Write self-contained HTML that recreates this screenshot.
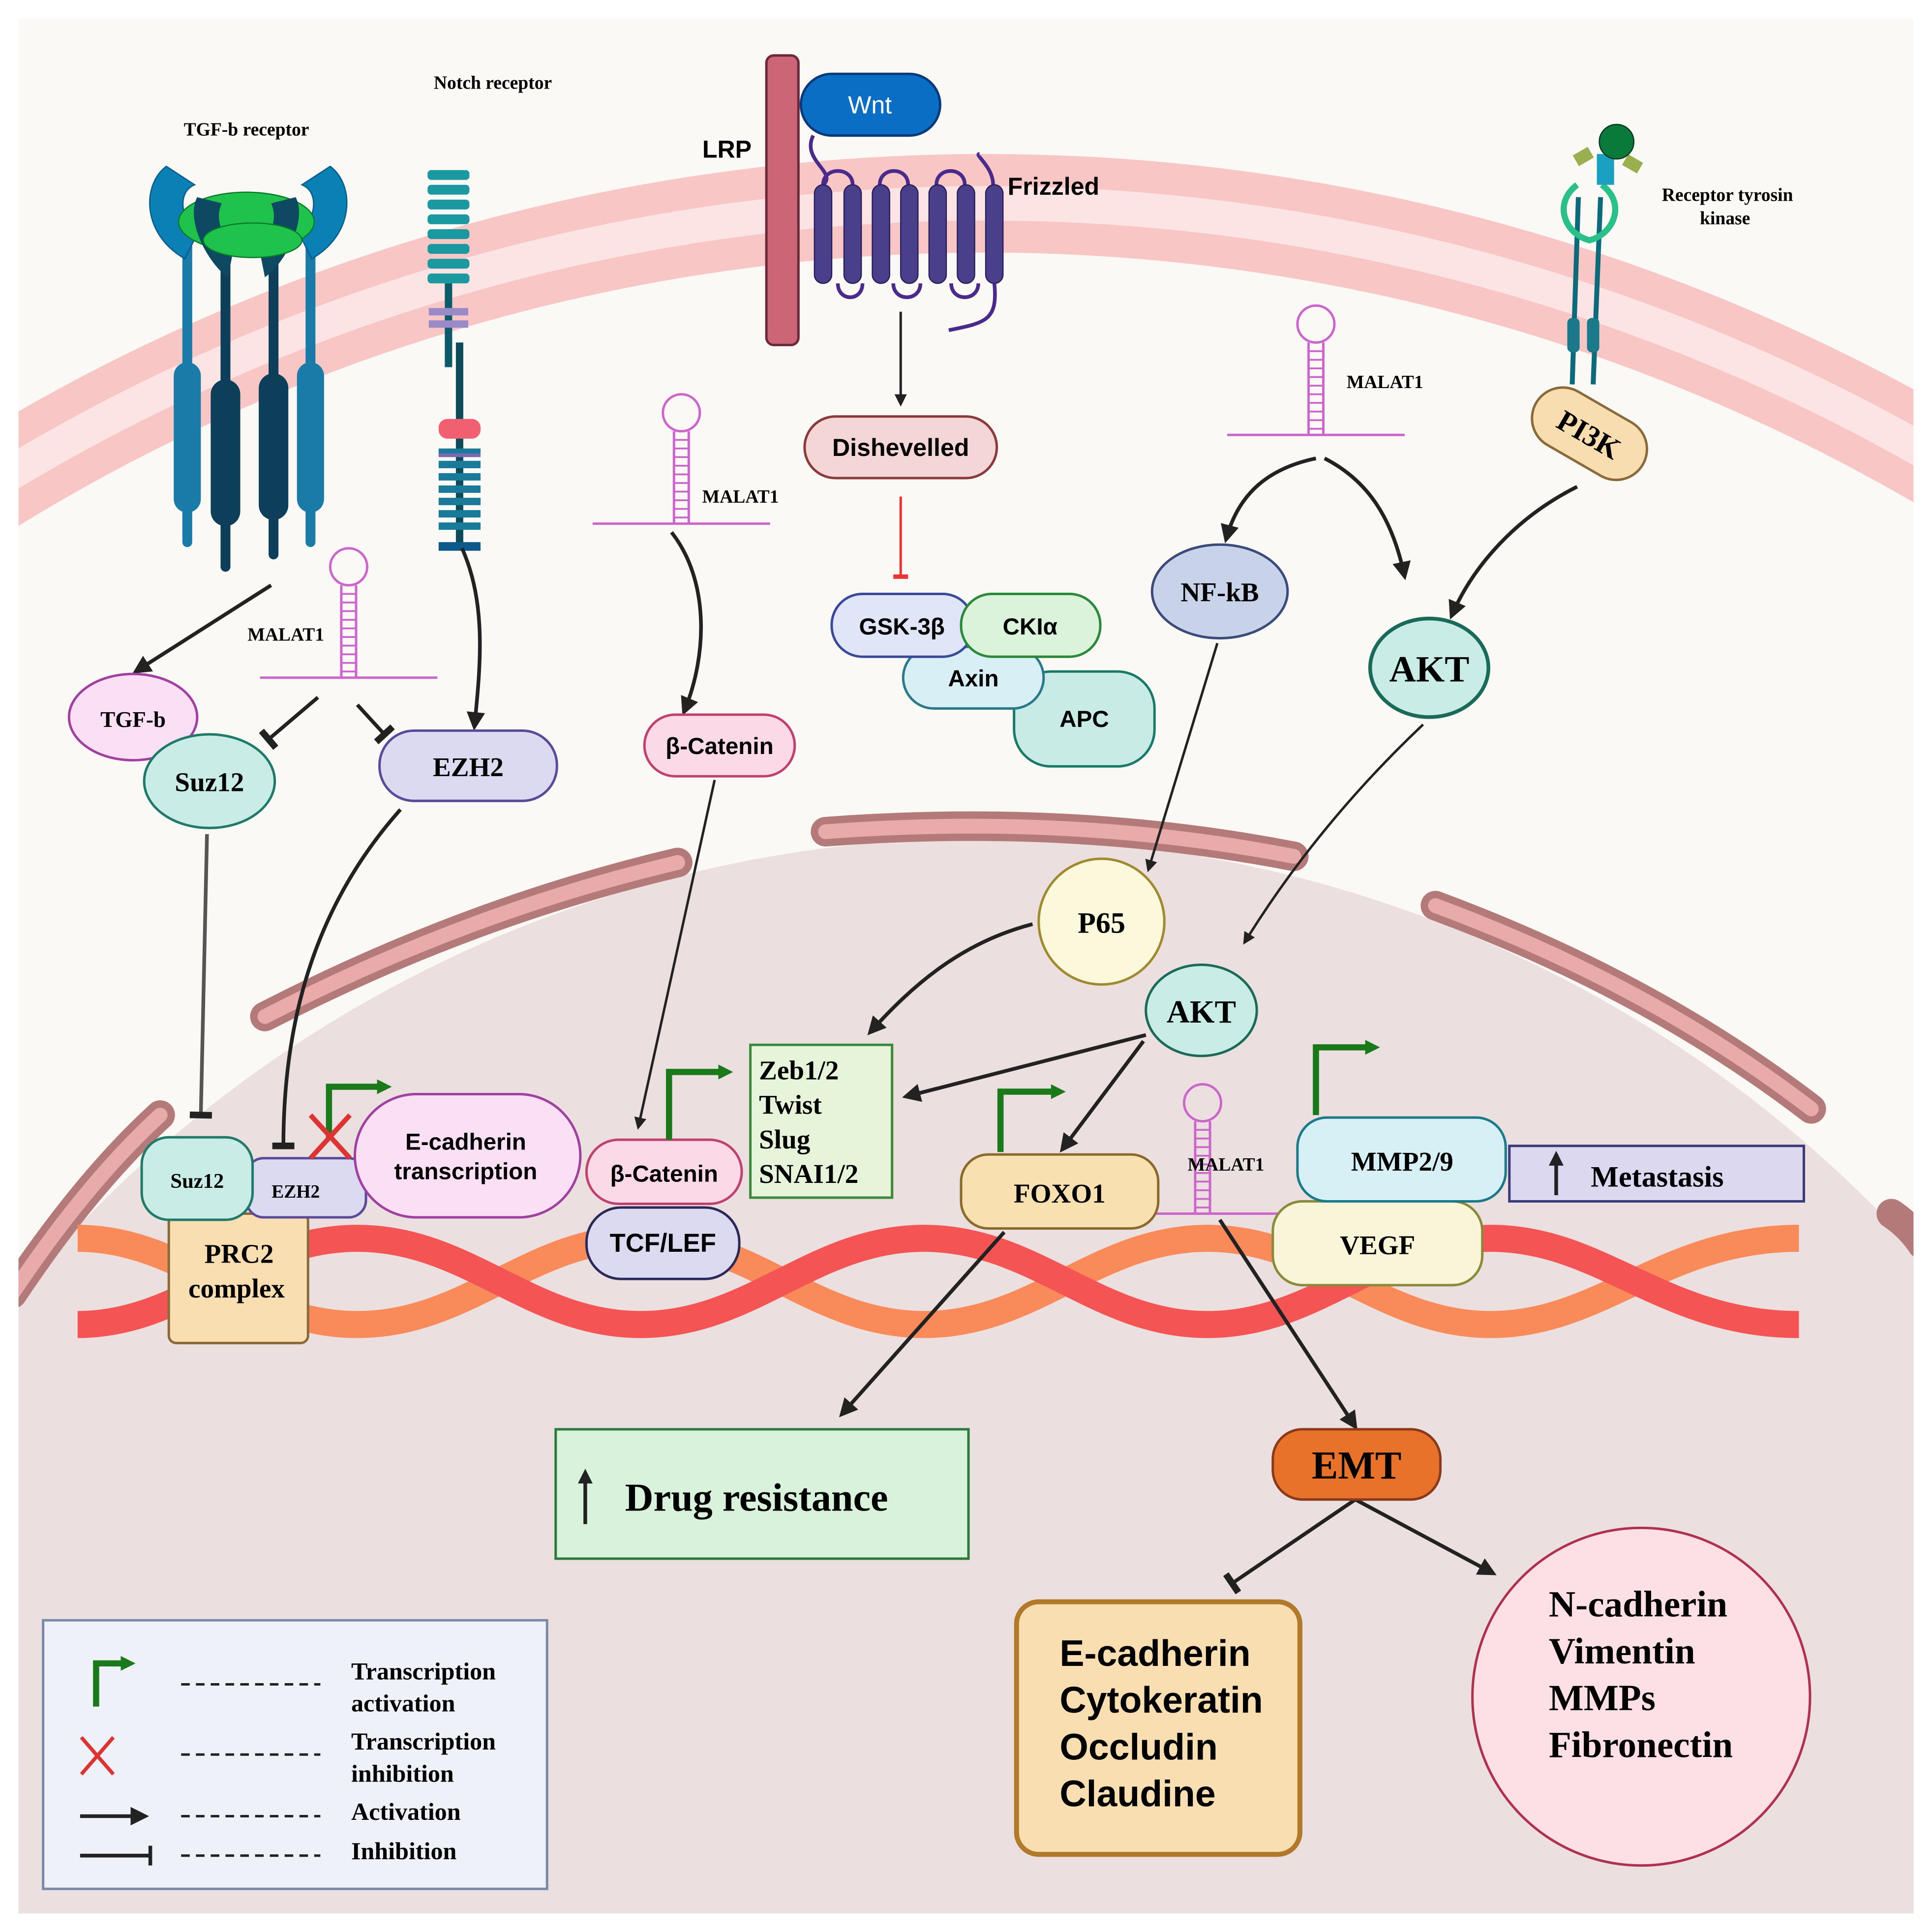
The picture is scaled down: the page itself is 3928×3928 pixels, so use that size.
<!DOCTYPE html>
<html><head><meta charset="utf-8"><style>
html,body{margin:0;padding:0;background:#fff;width:3928px;height:3928px;overflow:hidden}
svg{display:block}
.s{font-family:"Liberation Serif",serif;font-weight:bold}
.a{font-family:"Liberation Sans",sans-serif;font-weight:bold}
</style></head><body>
<svg width="3928" height="3928" viewBox="0 0 1568 1568" xmlns="http://www.w3.org/2000/svg">
<defs>
<marker id="ar" viewBox="0 0 10 10" refX="8" refY="5" markerWidth="5" markerHeight="5" orient="auto"><path d="M0,0 L10,5 L0,10 z" fill="#222"/></marker>
<marker id="tb" viewBox="0 0 10 10" refX="5" refY="5" markerWidth="6" markerHeight="6" orient="auto"><path d="M5,0 L5,10" stroke="#222" stroke-width="3"/></marker>
<marker id="tr" viewBox="0 0 10 10" refX="5" refY="5" markerWidth="6" markerHeight="6" orient="auto"><path d="M5,0 L5,10" stroke="#e33" stroke-width="3"/></marker>
<clipPath id="fr"><rect x="15" y="15" width="1538" height="1538"/></clipPath>
<g id="hp">
<line x1="-72" y1="0" x2="72" y2="0" stroke="#c6c" stroke-width="2"/>
<line x1="-6" y1="0" x2="-6" y2="-75" stroke="#c6c" stroke-width="2"/>
<line x1="6" y1="0" x2="6" y2="-75" stroke="#c6c" stroke-width="2"/>
<path d="M-6,-5 H6 M-6,-12 H6 M-6,-19 H6 M-6,-26 H6 M-6,-33 H6 M-6,-40 H6 M-6,-47 H6 M-6,-54 H6 M-6,-61 H6 M-6,-68 H6" stroke="#c6c" stroke-width="1.5"/>
<circle cx="0" cy="-90" r="15" fill="none" stroke="#c6c" stroke-width="2"/>
</g>
</defs>
<rect width="1568" height="1568" fill="#fff"/>
<g clip-path="url(#fr)">
<rect x="15" y="15" width="1538" height="1538" fill="#fbf9f5"/>
<circle cx="800" cy="1705" r="1540" fill="none" stroke="#f9c6c6" stroke-width="80"/>
<circle cx="800" cy="1705" r="1540" fill="none" stroke="#fde4e4" stroke-width="28"/>
<circle cx="800" cy="1698" r="1018" fill="#ecdfdf"/>
<g fill="none" stroke-linecap="round">
<path d="M215,825 Q380,740 550,700" stroke="#b47a7a" stroke-width="24"/>
<path d="M215,825 Q380,740 550,700" stroke="#e9aaaa" stroke-width="12"/>
<path d="M670,675 Q870,660 1050,695" stroke="#b47a7a" stroke-width="24"/>
<path d="M670,675 Q870,660 1050,695" stroke="#e9aaaa" stroke-width="12"/>
<path d="M1165,735 Q1340,800 1470,900" stroke="#b47a7a" stroke-width="24"/>
<path d="M1165,735 Q1340,800 1470,900" stroke="#e9aaaa" stroke-width="12"/>
<path d="M10,1050 Q70,960 130,905" stroke="#b47a7a" stroke-width="24"/>
<path d="M10,1050 Q70,960 130,905" stroke="#e9aaaa" stroke-width="12"/>
<path d="M1535,985 Q1550,995 1560,1010" stroke="#b47a7a" stroke-width="24"/>
</g>
<path d="M63,1005 C150,1005 200,1075 290,1075 S430,1005 520,1005 S660,1075 750,1075 S890,1005 980,1005 S1120,1075 1210,1075 S1350,1005 1460,1005" fill="none" stroke="#f98b5a" stroke-width="22"/>
<path d="M63,1075 C150,1075 200,1005 290,1005 S430,1075 520,1075 S660,1005 750,1005 S890,1075 980,1075 S1120,1005 1210,1005 S1350,1075 1460,1075" fill="none" stroke="#f55454" stroke-width="22"/>
</g>

<text x="200" y="110" class="s" font-size="15" text-anchor="middle">TGF-b receptor</text>
<g stroke-linecap="round">
<line x1="152" y1="190" x2="152" y2="440" stroke="#1a7aa8" stroke-width="8"/>
<line x1="183" y1="190" x2="183" y2="460" stroke="#0d3f5a" stroke-width="8"/>
<line x1="222" y1="190" x2="222" y2="450" stroke="#0d3f5a" stroke-width="8"/>
<line x1="252" y1="190" x2="252" y2="440" stroke="#1a7aa8" stroke-width="8"/>
<line x1="152" y1="305" x2="152" y2="405" stroke="#1a7aa8" stroke-width="22"/>
<line x1="183" y1="320" x2="183" y2="415" stroke="#0d3f5a" stroke-width="24"/>
<line x1="222" y1="315" x2="222" y2="410" stroke="#0d3f5a" stroke-width="24"/>
<line x1="252" y1="305" x2="252" y2="405" stroke="#1a7aa8" stroke-width="22"/>
</g>
<path d="M135,135 C115,150 115,190 150,210 L160,190 C145,175 145,155 158,150 Z" fill="#0a80b5" stroke="#0a5a8a"/>
<path d="M268,135 C288,150 288,190 253,210 L243,190 C258,175 258,155 245,150 Z" fill="#0a80b5" stroke="#0a5a8a"/>
<ellipse cx="200" cy="180" rx="55" ry="24" fill="#1fc24a" stroke="#0a7a2a"/>
<path d="M160,160 C150,180 170,215 185,225 L190,200 C178,190 175,175 180,165 Z" fill="#0d4a62"/>
<path d="M240,160 C250,180 230,215 215,225 L210,200 C222,190 225,175 220,165 Z" fill="#0d4a62"/>
<ellipse cx="205" cy="195" rx="40" ry="14" fill="#1fc24a" stroke="#0a7a2a"/>

<text x="400" y="72" class="s" font-size="15" text-anchor="middle">Notch receptor</text>
<g fill="#1a9aa0">
<rect x="347" y="138" width="34" height="8" rx="3"/><rect x="347" y="150" width="34" height="8" rx="3"/><rect x="347" y="162" width="34" height="8" rx="3"/><rect x="347" y="174" width="34" height="8" rx="3"/><rect x="347" y="186" width="34" height="8" rx="3"/><rect x="347" y="198" width="34" height="8" rx="3"/><rect x="347" y="210" width="34" height="8" rx="3"/><rect x="347" y="222" width="34" height="8" rx="3"/>
</g>
<line x1="364" y1="230" x2="364" y2="298" stroke="#0d5a6a" stroke-width="6"/>
<rect x="348" y="250" width="32" height="6" fill="#9a8ac8"/><rect x="348" y="260" width="32" height="6" fill="#9a8ac8"/>
<line x1="373" y1="278" x2="373" y2="445" stroke="#0d4a5a" stroke-width="6"/>
<rect x="356" y="340" width="34" height="16" rx="7" fill="#f06070"/>
<g fill="#1a7a9a"><rect x="356" y="364" width="34" height="6"/><rect x="356" y="374" width="34" height="6"/><rect x="356" y="384" width="34" height="6"/><rect x="356" y="394" width="34" height="6"/><rect x="356" y="404" width="34" height="6"/><rect x="356" y="414" width="34" height="6"/><rect x="356" y="424" width="34" height="6"/><rect x="356" y="440" width="34" height="7" fill="#0d5a8a"/></g>
<rect x="356" y="368" width="34" height="3" fill="#7a6ab0"/>

<rect x="622" y="45" width="26" height="235" rx="6" fill="#cc6677" stroke="#6a2a3a" stroke-width="2"/>
<text x="590" y="128" class="a" font-size="20" text-anchor="middle">LRP</text>
<rect x="650" y="60" width="113" height="50" rx="25" fill="#0a6fc4" stroke="#0a3a7a" stroke-width="2"/>
<text x="706" y="92" font-family="Liberation Sans,sans-serif" font-size="20" fill="#fff" text-anchor="middle">Wnt</text>
<path d="M660,110 C650,130 680,140 668,150 M668,150 C668,135 692,135 692,150 M714,150 C714,135 737,135 737,150 M760,150 C760,135 783,135 783,150 M806,150 C806,135 790,125 795,125" fill="none" stroke="#4a2a8a" stroke-width="3"/>
<g fill="#4a3f8a" stroke="#2a1f5a">
<rect x="661" y="150" width="14" height="80" rx="7"/><rect x="685" y="150" width="14" height="80" rx="7"/><rect x="708" y="150" width="14" height="80" rx="7"/><rect x="731" y="150" width="14" height="80" rx="7"/><rect x="754" y="150" width="14" height="80" rx="7"/><rect x="777" y="150" width="14" height="80" rx="7"/><rect x="800" y="150" width="14" height="80" rx="7"/>
</g>
<path d="M680,230 C680,245 700,245 700,230 M725,230 C725,245 747,245 747,230 M772,230 C772,245 794,245 794,230 M807,230 C810,260 800,262 770,268" fill="none" stroke="#4a2a8a" stroke-width="3"/>
<text x="855" y="158" class="a" font-size="20" text-anchor="middle">Frizzled</text>

<line x1="1281" y1="160" x2="1276" y2="312" stroke="#0d6a7a" stroke-width="4"/>
<line x1="1299" y1="160" x2="1293" y2="312" stroke="#0d6a7a" stroke-width="4"/>
<rect x="1272" y="258" width="10" height="28" rx="4" fill="#1a7a8a"/><rect x="1288" y="258" width="10" height="28" rx="4" fill="#1a7a8a"/>
<path d="M1280,150 C1260,165 1270,190 1290,195 C1310,190 1320,165 1300,150" fill="none" stroke="#2ac08a" stroke-width="5"/>
<rect x="1296" y="125" width="14" height="25" fill="#1aa0c0"/><rect x="1318" y="128" width="14" height="10" fill="#9ab050" transform="rotate(30 1325 133)"/><rect x="1278" y="122" width="14" height="10" fill="#9ab050" transform="rotate(-30 1285 127)"/>
<circle cx="1312" cy="115" r="14" fill="#0a7a3a" stroke="#053a1a"/>
<text x="1402" y="163" class="s" font-size="15" text-anchor="middle">Receptor tyrosin</text>
<text x="1400" y="182" class="s" font-size="15" text-anchor="middle">kinase</text>
<g transform="rotate(30 1290 352)"><rect x="1240" y="327" width="100" height="50" rx="25" fill="#f7ddb0" stroke="#8a6a3a" stroke-width="2"/><text x="1290" y="361" class="s" font-size="24" text-anchor="middle">PI3K</text></g>

<use href="#hp" x="283" y="550"/><text x="232" y="520" class="s" font-size="15" text-anchor="middle">MALAT1</text>
<use href="#hp" x="553" y="425"/><text x="601" y="408" class="s" font-size="15" text-anchor="middle">MALAT1</text>
<use href="#hp" x="1068" y="353"/><text x="1124" y="315" class="s" font-size="15" text-anchor="middle">MALAT1</text>
<use href="#hp" x="976" y="985"/><text x="995" y="950" class="s" font-size="15" text-anchor="middle">MALAT1</text>

<g fill="none" stroke="#222" stroke-width="3">
<path d="M220,475 L110,545" marker-end="url(#ar)"/>
<path d="M258,566 L218,600" marker-end="url(#tb)"/>
<path d="M290,572 L312,596" marker-end="url(#tb)"/>
<path d="M375,445 C395,490 390,540 385,590" marker-end="url(#ar)"/>
<path d="M545,432 C575,470 575,530 555,578" marker-end="url(#ar)"/>
<path d="M731,253 L731,328" stroke-width="2" marker-end="url(#ar)"/>
<path d="M1068,372 C1030,380 1005,400 995,438" marker-end="url(#ar)"/>
<path d="M1075,372 C1110,390 1130,420 1140,468" marker-end="url(#ar)"/>
<path d="M1280,395 C1230,420 1195,460 1178,500" marker-end="url(#ar)"/>
<path d="M988,522 L932,706" stroke-width="2" marker-end="url(#ar)"/>
<path d="M1155,588 C1100,640 1050,700 1010,765" stroke-width="2" marker-end="url(#ar)"/>
<path d="M838,750 C780,765 740,800 706,838" marker-end="url(#ar)"/>
<path d="M930,840 L735,890" marker-end="url(#ar)"/>
<path d="M928,845 L862,933" marker-end="url(#ar)"/>
<path d="M168,677 L163,905" stroke="#555" marker-end="url(#tb)"/>
<path d="M325,657 C260,730 230,820 230,930" marker-end="url(#tb)"/>
<path d="M580,633 L518,915" stroke-width="2" marker-end="url(#ar)"/>
<path d="M815,1000 L683,1148" marker-end="url(#ar)"/>
<path d="M990,990 L1100,1158" marker-end="url(#ar)"/>
<path d="M1100,1217 L1000,1285" marker-end="url(#tb)"/>
<path d="M1100,1217 L1212,1277" marker-end="url(#ar)"/>
</g>
<path d="M731,403 L731,468" stroke="#e33" stroke-width="2" fill="none" marker-end="url(#tr)"/>

<g stroke-width="2">
<ellipse cx="108" cy="582" rx="52" ry="35" fill="#fbe0f5" stroke="#a040a0"/>
<ellipse cx="170" cy="634" rx="53" ry="38" fill="#c9ece6" stroke="#1f7a6a"/>
<rect x="308" y="593" width="144" height="57" rx="28" fill="#dcdaf0" stroke="#5a4a9a"/>
<rect x="523" y="580" width="122" height="50" rx="25" fill="#fbd9e6" stroke="#c04070"/>
<rect x="653" y="338" width="156" height="50" rx="25" fill="#f4d6d6" stroke="#8a3a3a"/>
<rect x="823" y="545" width="114" height="77" rx="30" fill="#c8ebe6" stroke="#1a7a6a"/>
<rect x="733" y="525" width="114" height="50" rx="25" fill="#d8f0f5" stroke="#2a7a8a"/>
<rect x="675" y="482" width="115" height="51" rx="25" fill="#e0e6f8" stroke="#3a4a9a"/>
<rect x="780" y="482" width="113" height="51" rx="25" fill="#daf3da" stroke="#2a8a3a"/>
<ellipse cx="990" cy="480" rx="55" ry="38" fill="#c8d2e8" stroke="#3a4a7a"/>
<ellipse cx="1160" cy="542" rx="48" ry="40" fill="#c9ece6" stroke="#1a6a5a" stroke-width="3"/>
<circle cx="894" cy="748" r="51" fill="#fbf8dc" stroke="#a08a30"/>
<ellipse cx="975" cy="820" rx="45" ry="37" fill="#c9ece6" stroke="#1a6a5a"/>
<rect x="609" y="848" width="115" height="124" fill="#e6f5da" stroke="#3a8a3a"/>
<rect x="780" y="937" width="160" height="60" rx="22" fill="#f8e0b0" stroke="#8a6a2a"/>
<rect x="1033" y="975" width="170" height="68" rx="24" fill="#f8f5d8" stroke="#8a8a3a"/>
<rect x="1053" y="907" width="169" height="68" rx="24" fill="#d6f0f5" stroke="#1a7a8a"/>
<rect x="1225" y="930" width="239" height="45" fill="#dcd8f0" stroke="#3a3a7a"/>
<rect x="137" y="985" width="113" height="105" rx="6" fill="#f8deb0" stroke="#8a6a3a"/>
<rect x="200" y="940" width="97" height="48" rx="14" fill="#dcdaf0" stroke="#5a4a9a"/>
<rect x="115" y="923" width="90" height="67" rx="22" fill="#c9ece6" stroke="#1f7a6a"/>
<rect x="288" y="888" width="183" height="100" rx="50" fill="#fbe0f5" stroke="#a040a0"/>
<rect x="476" y="980" width="124" height="58" rx="28" fill="#dcdaf0" stroke="#2a2a5a"/>
<rect x="476" y="925" width="126" height="52" rx="26" fill="#fbd9e6" stroke="#c04070"/>
<rect x="451" y="1160" width="335" height="105" fill="#d8f2dc" stroke="#2a7a3a"/>
<rect x="1033" y="1160" width="136" height="57" rx="24" fill="#e8722a" stroke="#8a3a1a"/>
<rect x="825" y="1300" width="230" height="205" rx="18" fill="#f8deb0" stroke="#b07a2a" stroke-width="4"/>
<circle cx="1332" cy="1377" r="137" fill="#fde0e6" stroke="#b03050"/>
<rect x="35" y="1315" width="409" height="218" fill="#eef2f8" stroke="#7a8aaa"/>
</g>

<g fill="none" stroke="#1a7a1a" stroke-width="5">
<path d="M267,925 V882 H308"/><path d="M543,925 V870 H585"/><path d="M812,935 V886 H855"/><path d="M1068,905 V850 H1110"/>
</g>
<g fill="#1a7a1a"><path d="M306,876 L318,882 L306,888z"/><path d="M583,864 L595,870 L583,876z"/><path d="M853,880 L865,886 L853,892z"/><path d="M1108,844 L1120,850 L1108,856z"/></g>
<path d="M252,905 L284,940 M284,905 L252,940" stroke="#d33" stroke-width="4"/>

<g class="s" text-anchor="middle">
<text x="108" y="590" font-size="18">TGF-b</text>
<text x="170" y="642" font-size="22">Suz12</text>
<text x="380" y="630" font-size="22">EZH2</text>
<text x="990" y="488" font-size="22">NF-kB</text>
<text x="1160" y="553" font-size="30">AKT</text>
<text x="894" y="757" font-size="24">P65</text>
<text x="975" y="830" font-size="26">AKT</text>
<text x="860" y="976" font-size="22">FOXO1</text>
<text x="1138" y="950" font-size="22">MMP2/9</text>
<text x="1118" y="1018" font-size="22">VEGF</text>
<text x="1345" y="963" font-size="24">Metastasis</text>
<text x="160" y="964" font-size="17">Suz12</text>
<text x="240" y="972" font-size="15">EZH2</text>
<text x="194" y="1025" font-size="22">PRC2</text>
<text x="192" y="1053" font-size="22">complex</text>
<text x="614" y="1226" font-size="32">Drug resistance</text>
<text x="1101" y="1200" font-size="32">EMT</text>
</g>
<g class="s" font-size="22"><text x="616" y="876">Zeb1/2</text><text x="616" y="904">Twist</text><text x="616" y="932">Slug</text><text x="616" y="960">SNAI1/2</text></g>
<g class="s" font-size="30"><text x="1257" y="1312">N-cadherin</text><text x="1257" y="1350">Vimentin</text><text x="1257" y="1388">MMPs</text><text x="1257" y="1426">Fibronectin</text></g>
<g class="a" font-size="30"><text x="860" y="1352">E-cadherin</text><text x="860" y="1390">Cytokeratin</text><text x="860" y="1428">Occludin</text><text x="860" y="1466">Claudine</text></g>
<g class="a" text-anchor="middle">
<text x="731" y="370" font-size="20">Dishevelled</text>
<text x="732" y="515" font-size="19">GSK-3β</text>
<text x="836" y="515" font-size="19">CKIα</text>
<text x="790" y="557" font-size="19">Axin</text>
<text x="880" y="590" font-size="19">APC</text>
<text x="584" y="612" font-size="19">β-Catenin</text>
<text x="378" y="933" font-size="19">E-cadherin</text>
<text x="378" y="957" font-size="19">transcription</text>
<text x="539" y="959" font-size="19">β-Catenin</text>
<text x="538" y="1016" font-size="21">TCF/LEF</text>
</g>
<path d="M475,1237 V1200" stroke="#222" stroke-width="3"/><path d="M469,1204 L475,1192 L481,1204z" fill="#222"/>
<path d="M1263,970 V942" stroke="#222" stroke-width="3"/><path d="M1257,946 L1263,934 L1269,946z" fill="#222"/>

<path d="M78,1385 V1350 H100" fill="none" stroke="#1a7a1a" stroke-width="5"/><path d="M98,1344 L110,1350 L98,1356z" fill="#1a7a1a"/>
<path d="M66,1410 L92,1440 M92,1410 L66,1440" stroke="#d33" stroke-width="3"/>
<path d="M65,1474 L118,1474" stroke="#222" stroke-width="3" marker-end="url(#ar)"/>
<path d="M65,1506 L122,1506 M122,1498 V1514" stroke="#222" stroke-width="3"/>
<g stroke="#222" stroke-width="2" stroke-dasharray="7,5"><path d="M147,1367 H260"/><path d="M147,1424 H260"/><path d="M147,1474 H260"/><path d="M147,1506 H260"/></g>
<g class="s" font-size="20"><text x="285" y="1363">Transcription</text><text x="285" y="1389">activation</text><text x="285" y="1420">Transcription</text><text x="285" y="1446">inhibition</text><text x="285" y="1477">Activation</text><text x="285" y="1509">Inhibition</text></g>
</svg>
</body></html>
